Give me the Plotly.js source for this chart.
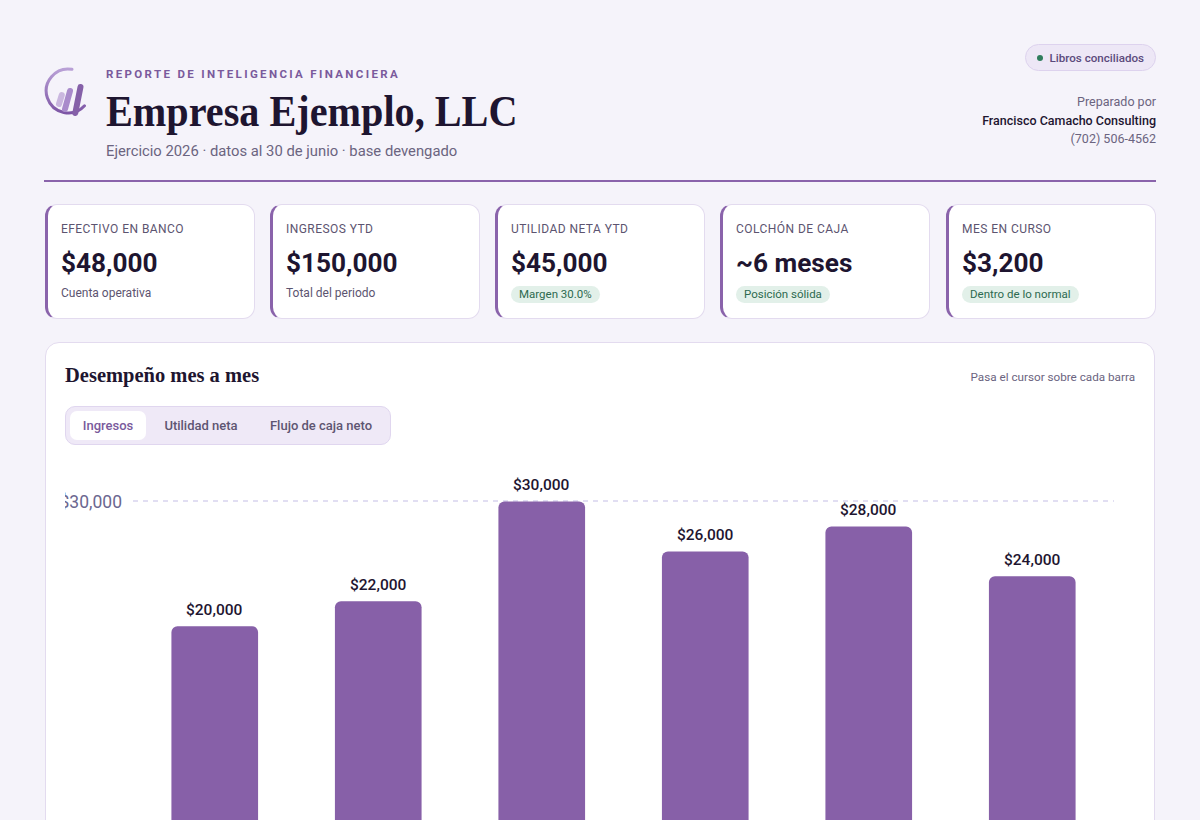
<!DOCTYPE html>
<html lang="es">
<head>
<meta charset="utf-8">
<title>Reporte de Inteligencia Financiera</title>
<script src="https://cdn.plot.ly/plotly-3.0.1.min.js"></script>
<style>
  * { box-sizing: border-box; margin: 0; padding: 0; }
  html, body { width: 1200px; background: #f5f3fa; }
  body { position: relative; height: 1000px; font-family: Roboto, "Segoe UI", "Noto Sans", sans-serif; color: #1e1530; }
  .abs { position: absolute; white-space: nowrap; }
  .kicker { left: 106px; top: 69px; line-height: 1; font-size: 11.5px; font-weight: 700; letter-spacing: 2.35px; color: #7a5a9c; }
  .title { left: 106px; top: 90px; line-height: 1; font-family: "Palatino Linotype", "Book Antiqua", Palatino, "URW Palladio L", P052, "Liberation Serif", serif; font-weight: 700; font-size: 44px; color: #1e1530; transform: scaleX(0.914); transform-origin: 0 0; }
  .subtitle { left: 106px; top: 144px; line-height: 1; font-size: 14.8px; color: #6b6480; }
  .badge { right: 44px; top: 44px; height: 27px; padding: 0 11px 0 11px; border-radius: 14px; background: #ede7f6; border: 1px solid #ddd2ee; font-size: 11.6px; font-weight: 500; color: #5b4a7c; display: flex; align-items: center; gap: 7px; }
  .badge .dot { width: 6px; height: 6px; border-radius: 50%; background: #2f7d5c; }
  .prep { right: 44px; top: 93px; text-align: right; font-size: 12.5px; line-height: 18.5px; color: #6b6480; }
  .prep b { color: #1e1530; font-weight: 500; }
  .divider { left: 44px; top: 180px; width: 1112px; height: 2px; background: #8a63ab; }
  .card { top: 204px; width: 210px; height: 115px; background: #fff; border: 1px solid #e3dbef; border-left: 3px solid #8a63ab; border-radius: 12px; padding: 17px 13px 0 13px; }
  .card .lbl { font-size: 12px; line-height: 15px; color: #5c5470; letter-spacing: 0.45px; }
  .card .val { font-size: 26.2px; font-weight: 700; color: #1e1530; margin-top: 9px; line-height: 34px; }
  .card .sub { font-size: 12px; color: #5c5470; margin-top: 6px; }
  .card .pill { display: inline-block; margin-top: 6px; font-size: 11.5px; color: #2d6a4f; background: #e2f0e9; border-radius: 10px; padding: 1px 8px 2px 8px; }
  .panel { left: 45px; top: 342px; width: 1110px; height: 620px; background: #fff; border: 1px solid #e3dbef; border-radius: 14px; }
  .ptitle { left: 65px; top: 364px; font-family: "Palatino Linotype", "Book Antiqua", Palatino, "URW Palladio L", P052, "Liberation Serif", serif; font-weight: 700; font-size: 20.5px; color: #1e1530; }
  .hint { right: 65px; top: 370px; font-size: 11.7px; color: #6b6480; }
  .tabs { left: 65px; top: 406px; height: 39px; width: 326px; background: #efe9f7; border: 1px solid #e0d6ef; border-radius: 10px; padding: 4px; display: flex; }
  .tab { height: 29px; border-radius: 7px; font-size: 13px; font-weight: 500; color: #5e5572; display: flex; align-items: center; justify-content: center; }
  .tab.on { background: #fff; color: #7a5a9c; }
  #chart { left: 65px; top: 456px; width: 1070px; height: 460px; overflow: hidden; }
</style>
</head>
<body>
<svg class="abs" style="left:42px;top:64px" width="52" height="58" viewBox="42 64 52 58">
  <defs>
    <linearGradient id="arcg" x1="0" y1="0" x2="0" y2="1">
      <stop offset="0" stop-color="#b9a0d6"/>
      <stop offset="1" stop-color="#7d55a5"/>
    </linearGradient>
  </defs>
  <path d="M 72 69.3 A 22 22 0 1 0 84.5 105.8" fill="none" stroke="url(#arcg)" stroke-width="3" stroke-linecap="round"/>
  <line x1="59" y1="104" x2="61.8" y2="95" stroke="#cab7df" stroke-width="6" stroke-linecap="round"/>
  <line x1="65" y1="109" x2="70" y2="91" stroke="#a98bcb" stroke-width="6" stroke-linecap="round"/>
  <line x1="75.3" y1="113" x2="80.5" y2="87" stroke="#8560a8" stroke-width="6" stroke-linecap="round"/>
</svg>
<div class="abs kicker">REPORTE DE INTELIGENCIA FINANCIERA</div>
<div class="abs title">Empresa Ejemplo, LLC</div>
<div class="abs subtitle">Ejercicio 2026 · datos al 30 de junio · base devengado</div>
<div class="abs badge"><span class="dot"></span>Libros conciliados</div>
<div class="abs prep">Preparado por<br><b>Francisco Camacho Consulting</b><br>(702) 506-4562</div>
<div class="abs divider"></div>

<div class="abs card" style="left:45px"><div class="lbl">EFECTIVO EN BANCO</div><div class="val">$48,000</div><div class="sub">Cuenta operativa</div></div>
<div class="abs card" style="left:270px"><div class="lbl">INGRESOS YTD</div><div class="val">$150,000</div><div class="sub">Total del periodo</div></div>
<div class="abs card" style="left:495px"><div class="lbl">UTILIDAD NETA YTD</div><div class="val">$45,000</div><span class="pill">Margen 30.0%</span></div>
<div class="abs card" style="left:720px"><div class="lbl">COLCHÓN DE CAJA</div><div class="val">~6 meses</div><span class="pill">Posición sólida</span></div>
<div class="abs card" style="left:946px"><div class="lbl">MES EN CURSO</div><div class="val">$3,200</div><span class="pill">Dentro de lo normal</span></div>

<div class="abs panel"></div>
<div class="abs ptitle">Desempeño mes a mes</div>
<div class="abs hint">Pasa el cursor sobre cada barra</div>
<div class="abs tabs"><div class="tab on" style="width:76px">Ingresos</div><div class="tab" style="width:110px">Utilidad neta</div><div class="tab" style="width:130px">Flujo de caja neto</div></div>
<div class="abs" id="chart"></div>

<script>
const months = ["Ene", "Feb", "Mar", "Abr", "May", "Jun"];
const ingresos = [20000, 22000, 30000, 26000, 28000, 24000];
const yTickVals = [0, 30000];

const labels = ingresos.map(v => "$" + v.toLocaleString("en-US"));
const sans = "Roboto, Segoe UI, Noto Sans, sans-serif";

const trace = {
  type: "bar",
  x: months,
  y: ingresos,
  marker: { color: "#8760a8" },
  hovertemplate: "%{x}<br>$%{y:,.0f}<extra></extra>"
};

const valueLabels = months.map((m, i) => ({
  x: m,
  y: ingresos[i],
  xref: "x",
  yref: "y",
  text: labels[i],
  showarrow: false,
  yanchor: "bottom",
  yshift: 5,
  font: { family: sans, size: 15.5, color: "#1e1530", weight: 500 }
}));

const layout = {
  width: 1070,
  height: 460,
  margin: { l: 68, r: 21, t: 8, b: 40 },
  paper_bgcolor: "rgba(0,0,0,0)",
  plot_bgcolor: "rgba(0,0,0,0)",
  bargap: 0.47,
  barcornerradius: 6,
  showlegend: false,
  font: { family: sans, color: "#6b6790" },
  annotations: valueLabels,
  xaxis: {
    type: "category",
    showgrid: false,
    showline: false,
    zeroline: false,
    ticks: "",
    tickfont: { size: 13, color: "#6b6480" },
    fixedrange: true
  },
  yaxis: {
    range: [0, 33000],
    tickvals: yTickVals,
    tickformat: "$,.0f",
    showgrid: true,
    gridcolor: "#e1def2",
    griddash: "5px,5px",
    gridwidth: 1.5,
    zeroline: false,
    showline: false,
    ticks: "",
    ticklabelstandoff: 10,
    tickfont: { size: 17.5, color: "#6b6790" },
    automargin: false,
    fixedrange: true
  },
  hoverlabel: { bgcolor: "#1e1530", font: { color: "#fff" } }
};

Plotly.newPlot("chart", [trace], layout, { displayModeBar: false, responsive: false });
</script>
</body>
</html>
